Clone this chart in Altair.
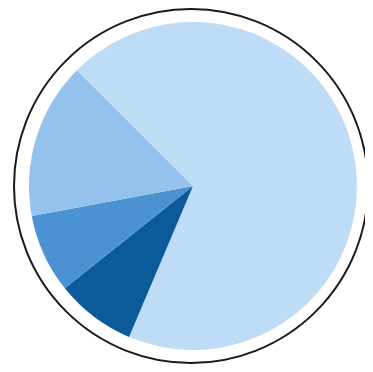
import altair as alt
import pandas as pd

categories = ["A", "B", "C", "D"]
values = [68.9, 7.9, 7.8, 15.4]
colors = ["#bfdcf7", "#0b5a9a", "#4b92d2", "#94c2ec"]
order_idx = [0, 1, 2, 3]

df = pd.DataFrame({"category": categories, "value": values, "idx": order_idx})

start = -0.787
outer = alt.Chart(pd.DataFrame({"k": [1]})).mark_arc(
    radius=177, theta=0, theta2=6.2832, fill="white", stroke="#1a1a1a", strokeWidth=2
).encode(x=alt.value(183), y=alt.value(178))

pie = alt.Chart(df).mark_arc(radius=164, stroke=None).encode(
    theta=alt.Theta("value:Q", stack=True, scale=alt.Scale(range=[start, start + 6.28318])),
    color=alt.Color("category:N", scale=alt.Scale(domain=categories, range=colors), legend=None),
    order=alt.Order("idx:Q"),
    x=alt.value(185),
    y=alt.value(178),
)

chart = alt.layer(outer, pie).properties(
    width=357, height=356, autosize=alt.AutoSizeParams(type="none"), padding=0,
    background="white"
).configure_view(stroke=None)

chart.save("out.html", embed_options={"renderer": "svg", "actions": False})
